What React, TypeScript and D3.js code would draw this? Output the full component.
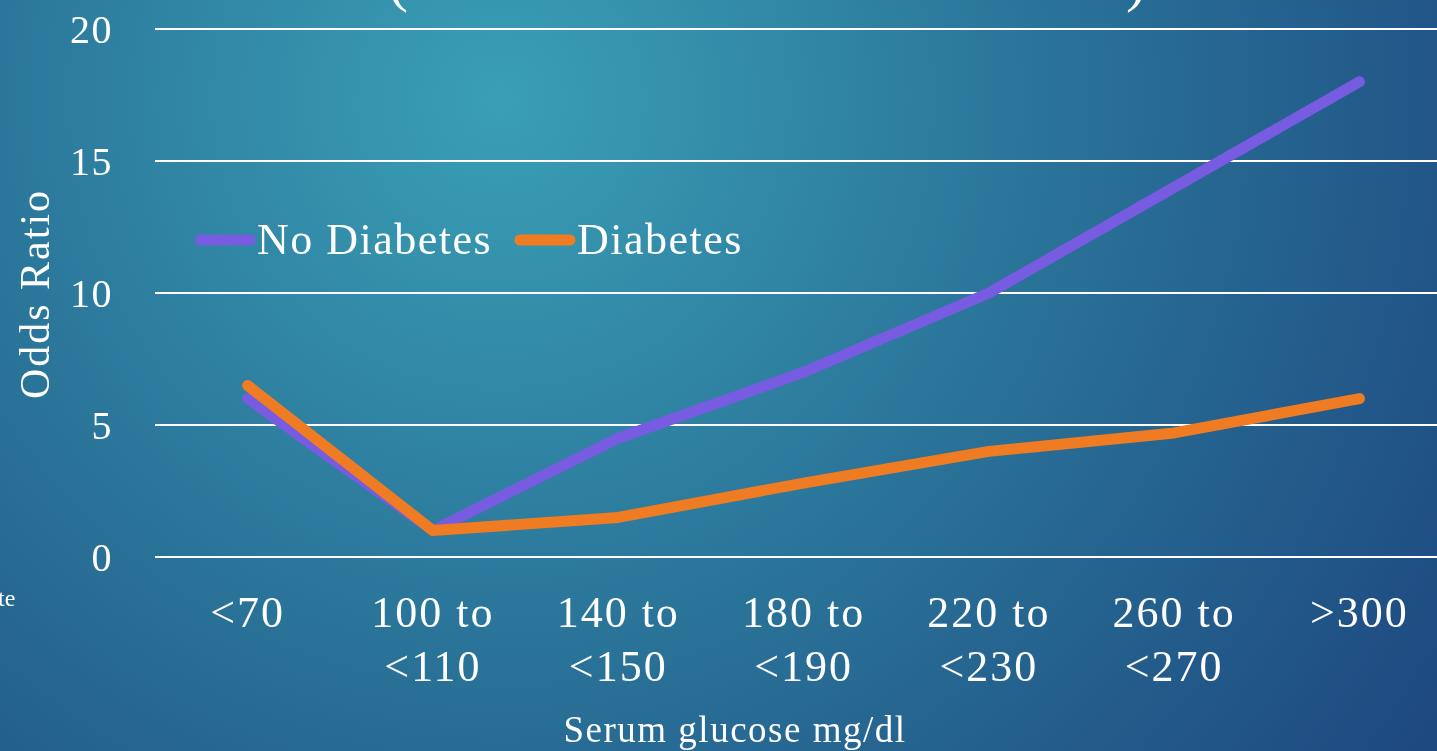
import React, { useEffect, useRef } from 'react';
import * as d3 from 'd3';

const categories = ['<70', '100 to|<110', '140 to|<150', '180 to|<190', '220 to|<230', '260 to|<270', '>300'];
const noDiabetes = [6, 1, 4.5, 7, 10, 14, 18];
const diabetes = [6.5, 1, 1.5, 2.8, 4, 4.7, 6];
const yTicks = [0, 5, 10, 15, 20];
const seriesNames = ['No Diabetes', 'Diabetes'];
const seriesColors = ['#775be0', '#ef7b22'];

const W = 1437;
const H = 751;
const FONT = '"Liberation Serif", "DejaVu Serif", serif';

const App = () => {
  const ref = useRef<SVGSVGElement>(null);

  useEffect(() => {
    const svg = d3.select(ref.current);
    svg.selectAll('*').remove();

    // background gradient
    const defs = svg.append('defs');
    const grad = defs.append('radialGradient')
      .attr('id', 'bg')
      .attr('gradientUnits', 'userSpaceOnUse')
      .attr('cx', 500).attr('cy', 100).attr('r', 1200);
    grad.append('stop').attr('offset', '0%').attr('stop-color', '#3a9fb6');
    grad.append('stop').attr('offset', '45%').attr('stop-color', '#2a7499');
    grad.append('stop').attr('offset', '100%').attr('stop-color', '#1c437d');
    svg.append('rect').attr('width', W).attr('height', H).attr('fill', 'url(#bg)');

    const x = d3.scaleBand().domain(categories).range([155, 155 + 185.3 * 7]);
    const y = d3.scaleLinear().domain([0, 20]).range([557, 29]);

    // gridlines
    svg.append('g')
      .selectAll('line')
      .data(yTicks)
      .join('line')
      .attr('x1', 155).attr('x2', W)
      .attr('y1', d => y(d)).attr('y2', d => y(d))
      .attr('stroke', '#ffffff').attr('stroke-width', 2);

    // y tick labels
    svg.append('g')
      .selectAll('text')
      .data(yTicks)
      .join('text')
      .attr('x', 113).attr('y', d => y(d) + 14)
      .attr('text-anchor', 'end')
      .attr('font-family', FONT).attr('font-size', 40).attr('letter-spacing', 1.5).attr('fill', '#fff')
      .text(d => d);

    // x tick labels (two lines)
    const xl = svg.append('g')
      .selectAll('text')
      .data(categories)
      .join('text')
      .attr('text-anchor', 'middle')
      .attr('font-family', FONT).attr('font-size', 44).attr('letter-spacing', 2).attr('fill', '#fff');
    xl.each(function (d) {
      const cx = (x(d) as number) + x.bandwidth() / 2;
      d.split('|').forEach((part, i) => {
        d3.select(this).append('tspan').attr('x', cx).attr('y', 627 + i * 54).text(part);
      });
    });

    // axis titles
    svg.append('text')
      .attr('transform', 'translate(49,294) rotate(-90)')
      .attr('text-anchor', 'middle')
      .attr('font-family', FONT).attr('font-size', 42).attr('letter-spacing', 2).attr('fill', '#fff')
      .text('Odds Ratio');
    svg.append('text')
      .attr('x', 735).attr('y', 742)
      .attr('text-anchor', 'middle')
      .attr('font-family', FONT).attr('font-size', 37).attr('letter-spacing', 1.5).attr('fill', '#fff')
      .text('Serum glucose mg/dl');

    // title fragments cut off at top
    svg.append('text').attr('x', 388).attr('y', 0)
      .attr('font-family', FONT).attr('font-size', 60).attr('fill', '#fff').text('(');
    svg.append('text').attr('x', 1126).attr('y', 0)
      .attr('font-family', FONT).attr('font-size', 60).attr('fill', '#fff').text(')');
    svg.append('text').attr('x', -2).attr('y', 606)
      .attr('font-family', FONT).attr('font-size', 24).attr('fill', '#fff').text('te');

    // lines
    const line = d3.line<number>()
      .x((_, i) => (x(categories[i]) as number) + x.bandwidth() / 2)
      .y(d => y(d));
    [noDiabetes, diabetes].forEach((s, i) => {
      svg.append('path')
        .datum(s)
        .attr('d', line)
        .attr('fill', 'none')
        .attr('stroke', seriesColors[i])
        .attr('stroke-width', 11)
        .attr('stroke-linecap', 'round')
        .attr('stroke-linejoin', 'round');
    });

    // legend
    const legendX = [200, 520];
    seriesNames.forEach((name, i) => {
      const g = svg.append('g').attr('transform', `translate(${legendX[i]},240)`);
      g.append('line').attr('x1', 0).attr('x2', 50).attr('y1', 0).attr('y2', 0)
        .attr('stroke', seriesColors[i]).attr('stroke-width', 11).attr('stroke-linecap', 'round');
      g.append('text').attr('x', 57).attr('y', 14)
        .attr('font-family', FONT).attr('font-size', 44).attr('letter-spacing', 1.5).attr('fill', '#fff').text(name);
    });
  }, []);

  return (
    <div style={{ position: 'fixed', left: 0, top: 0 }}>
      <svg ref={ref} width={W} height={H} style={{ display: 'block' }} />
    </div>
  );
};

export default App;
